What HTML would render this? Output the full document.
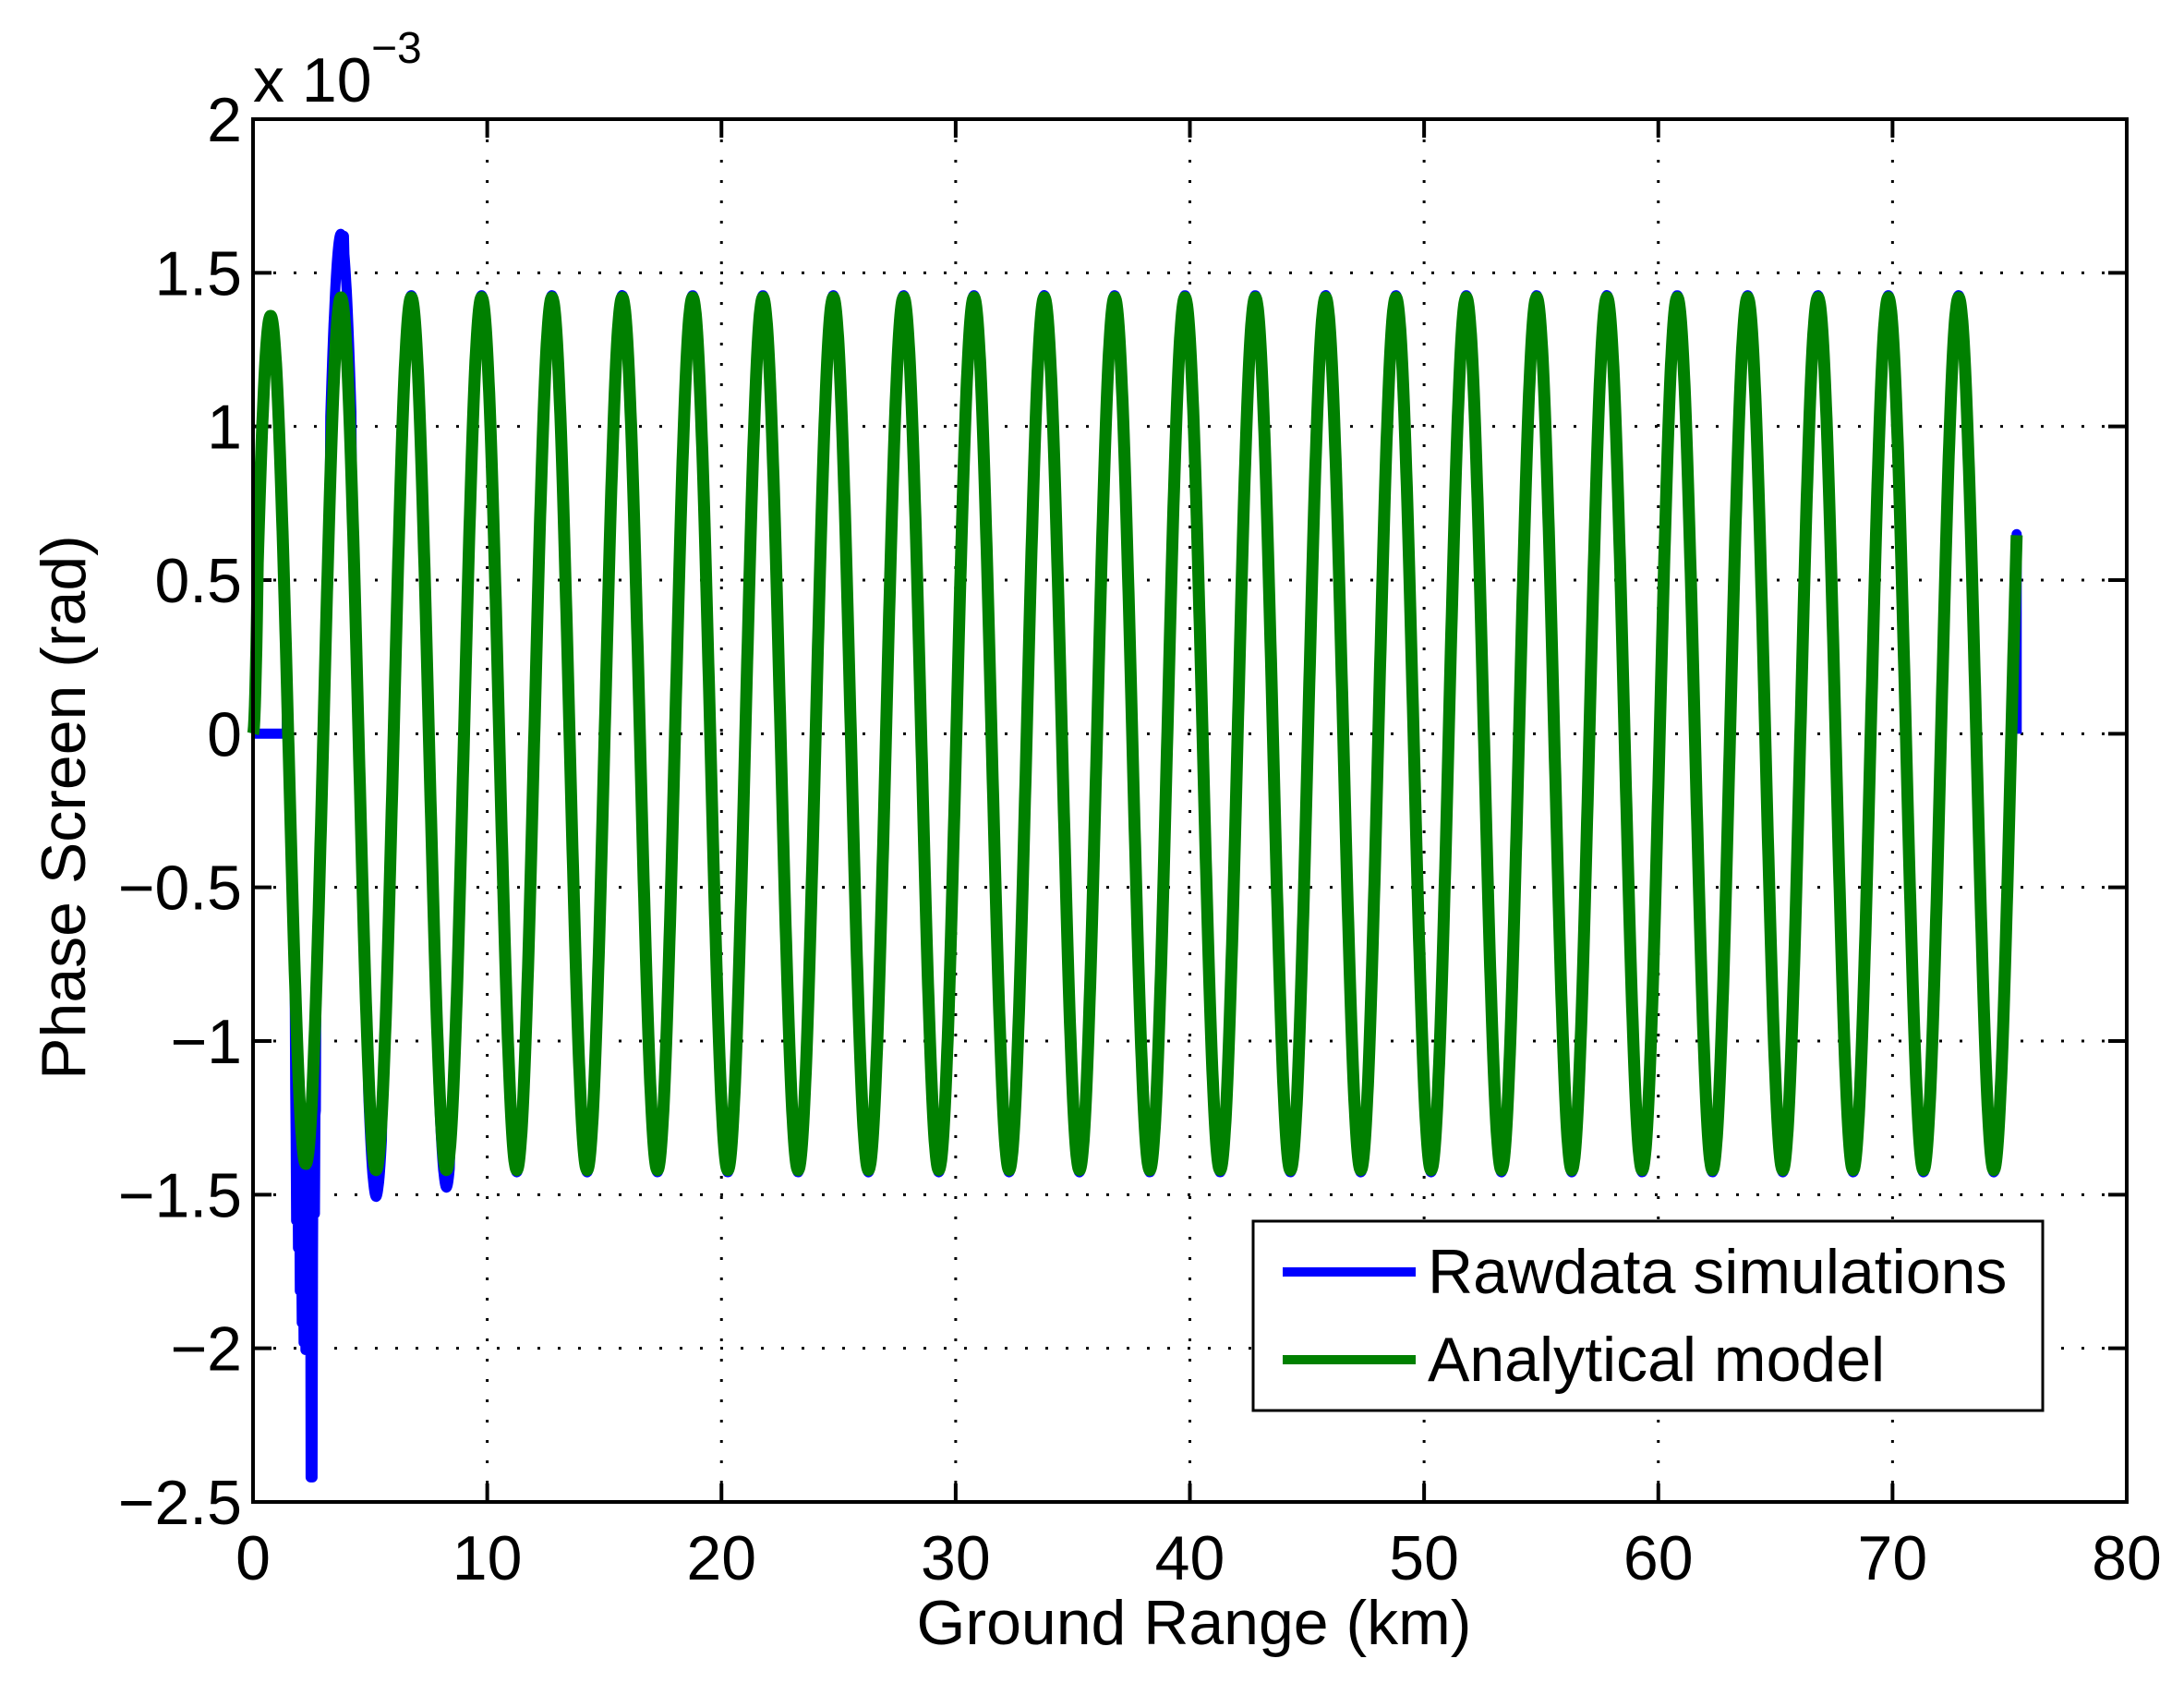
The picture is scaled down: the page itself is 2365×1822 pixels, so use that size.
<!DOCTYPE html>
<html><head><meta charset="utf-8"><style>
html,body{margin:0;padding:0;background:#fff;}
svg{display:block;}
text{font-family:"Liberation Sans",Arial,sans-serif;fill:#000;}
</style></head><body>
<svg id="s" width="2365" height="1822" xmlns="http://www.w3.org/2000/svg">
<rect width="2365" height="1822" fill="#fff"/>
<g id="grid" stroke="#000" stroke-width="3" stroke-dasharray="3,19"></g>
<g id="ticks" stroke="#000" stroke-width="4"></g>
<path id="blue" fill="none" stroke="#0000ff" stroke-width="11" stroke-linejoin="round"/>
<path id="green" fill="none" stroke="#008000" stroke-width="13" stroke-linejoin="round"/>
<rect x="274" y="129" width="2029" height="1497" fill="none" stroke="#000" stroke-width="4"/>
<g id="labels" font-size="68"></g>
<text x="274" y="110" font-size="68">x 10</text>
<text x="402" y="68" font-size="48">−3</text>
<text transform="translate(92,874) rotate(-90)" font-size="68" text-anchor="middle">Phase Screen (rad)</text>
<text x="1293" y="1780" font-size="68" text-anchor="middle">Ground Range (km)</text>
<rect x="1357" y="1322" width="855" height="205" fill="#fff" stroke="#000" stroke-width="3"/>
<line x1="1389" y1="1377" x2="1533" y2="1377" stroke="#0000ff" stroke-width="10"/>
<line x1="1389" y1="1472" x2="1533" y2="1472" stroke="#008000" stroke-width="10"/>
<text x="1546" y="1400" font-size="68">Rawdata simulations</text>
<text x="1546" y="1495" font-size="68">Analytical model</text>
</svg>
<script>
var X0=274,X1=2303,Y0=129,Y1=1626;
function px(k){return X0+k*(X1-X0)/80;}
function py(v){return Y0+(2-v)*(Y1-Y0)/4.5;}
var ns="http://www.w3.org/2000/svg";
function el(p,t,a,txt){var e=document.createElementNS(ns,t);for(var k in a)e.setAttribute(k,a[k]);if(txt!==undefined)e.textContent=txt;document.getElementById(p).appendChild(e);}
for(var k=10;k<80;k+=10){el('grid','line',{x1:px(k),y1:Y0,x2:px(k),y2:Y1});}
for(var v=-2;v<2;v+=0.5){el('grid','line',{x1:X0,y1:py(v),x2:X1,y2:py(v)});}
for(var k=0;k<=80;k+=10){el('ticks','line',{x1:px(k),y1:Y1,x2:px(k),y2:Y1-20});el('ticks','line',{x1:px(k),y1:Y0,x2:px(k),y2:Y0+20});
 el('labels','text',{x:px(k),y:1710,'text-anchor':'middle'},String(k));}
for(var i=0;i<=9;i++){var v=-2.5+i*0.5;el('ticks','line',{x1:X0,y1:py(v),x2:X0+20,y2:py(v)});el('ticks','line',{x1:X1,y1:py(v),x2:X1-20,y2:py(v)});
 var s=(Math.round(v*10)/10).toString().replace('-','−');el('labels','text',{x:262,y:py(v)+24,'text-anchor':'end'},s);}
var XE=75.3;
function g(x){var a=1.42;if(x<1.4)a=1.36;else if(x<2.8)a=1.40;return a*Math.cos(2*Math.PI*(x-0.75)/3.003);}
var d='',b='';
for(var x=0;x<=XE+0.001;x+=0.02){var v=g(x);if(x<0.2)v=v*x/0.2;d+=(d?'L':'M')+px(x).toFixed(1)+','+py(v).toFixed(1);}
for(var x=0;x<=XE+0.001;x+=0.02){var v;
 if(x<1.45)v=0;else{v=g(x)*1.005;
  if(x>1.8&&x<2.7){v=Math.min(v,-1.0)-0.6*Math.abs(Math.sin(x*40));if(x>2.45&&x<2.55)v=-2.42;}
  if(x>3.3&&x<4.2){v=v+0.2;if(x>3.75&&x<3.9)v=1.62;}
  if(x>4.9&&x<5.5)v=v-0.08;if(x>7.9&&x<8.4)v=v-0.05;}
 b+=(b?'L':'M')+px(x).toFixed(1)+','+py(v).toFixed(1);}
b+='L'+px(XE)+','+py(0);
document.getElementById('green').setAttribute('d',d);
document.getElementById('blue').setAttribute('d',b);
</script>
</body></html>
